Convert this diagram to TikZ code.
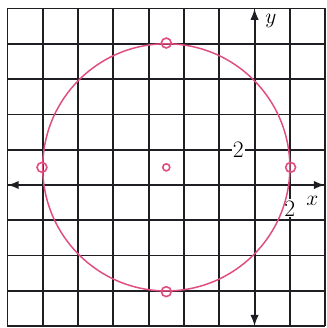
\documentclass[tikz,border=0pt]{standalone}
\usepackage{tikz}
\usetikzlibrary{positioning, arrows.meta}
\definecolor{curvepink}{RGB}{224,78,128}
\definecolor{gridink}{RGB}{30,30,35}
\newcommand\Ink{gridink}

\begin{document}
\begin{tikzpicture}[
    gridline/.style = {\Ink, line width=1.4pt},
    axisline/.style = {\Ink, line width=1.7pt, {Latex[length=3.2mm,width=2.4mm]}-{Latex[length=3.2mm,width=2.4mm]}},
    ticklabel/.style = {fill=white, inner sep=1pt, font=\fontsize{19}{22}\selectfont},
    pointmark/.style = {draw=curvepink, circle, line width=1.3pt, minimum size=2.8mm, inner sep=0pt}
  ]
                \useasboundingbox (-7.21,-4.05) rectangle (2.04,5.24);
                \draw[gridline] (-7,-4) grid (2,5);

                % axes
                \coordinate (xl) at (-7,0);
                \coordinate (xr) at (2,0);
                \coordinate (yb) at (0,-4);
                \coordinate (yt) at (0,5);
                \draw[axisline] (xl) -- (xr);
                \draw[axisline] (yb) -- (yt);
                \node[font=\fontsize{19}{22}\selectfont] (xlab) at (1.64,-0.44) {$x$};
                \node[font=\fontsize{19}{22}\selectfont] (ylab) at (0.46,4.66) {$y$};
                \node[ticklabel] (ytick) at (-0.46,1) {2};
                \node[ticklabel] (xtick) at (1,-0.66) {2};

                % circle with centre (-5,1), radius 7
                \node [circle, draw=curvepink, line width=1.2pt, minimum size=7cm] (c) at (-2.5,0.5) {};
                \node[pointmark, minimum size=2mm] (ctr) at (c.center) {};

                \foreach \a in {0,90,180,270}{
                  \node[pointmark] at (c.\a) (p\a) {};
                }
\end{tikzpicture}
\end{document}
